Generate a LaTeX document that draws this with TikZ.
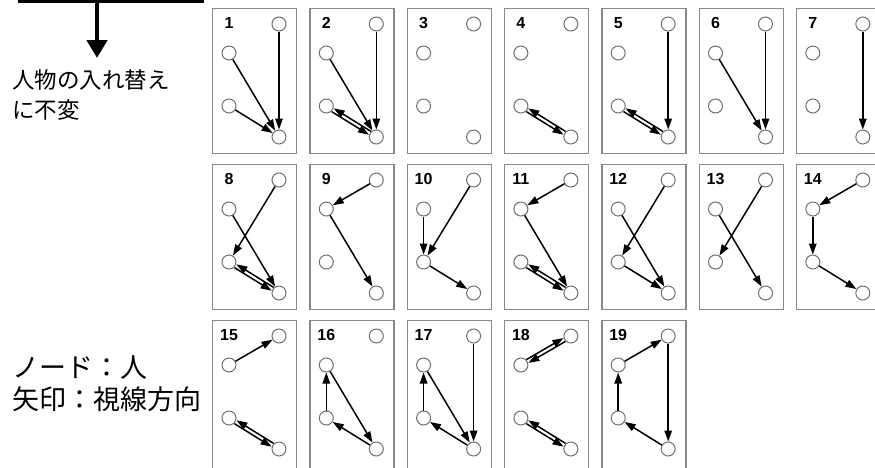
\documentclass[tikz,border=0pt]{standalone}
\usepackage{fontspec}
\setmainfont{Liberation Sans}
\newfontfamily\cjk{Noto Sans CJK JP}
\usetikzlibrary{arrows.meta}
\definecolor{nodegray}{HTML}{707070}
\definecolor{framegray}{HTML}{888888}
\begin{document}
\begin{tikzpicture}[x=1pt,y=-1pt,
  person/.style={circle,draw=nodegray,fill=white,line width=1pt,minimum size=14pt,inner sep=0pt},
  panelbox/.style={draw=framegray,line width=1.4pt,anchor=north west,minimum width=84pt,inner sep=0pt},
  lbl/.style={font=\bfseries\fontsize{16}{16}\selectfont,inner sep=0pt},
  arr/.style={-{Triangle[length=11pt,width=7.5pt]},line width=1.5pt,black},
  cdup/.style={transform canvas={shift={(1.0,-1.65)}}},
  cddn/.style={transform canvas={shift={(-1.0,1.65)}}},
  abdn/.style={transform canvas={shift={(1.0,1.65)}}},
  abup/.style={transform canvas={shift={(-1.0,-1.65)}}},
  bigline/.style={line width=4pt,black},
  bigarr/.style={line width=4.7pt,black,-{Triangle[length=18pt,width=20pt]}},
  cjktext/.style={anchor=west,align=left,inner sep=0pt,text=black}
]
\useasboundingbox (0,0) rectangle (875,467);

% top-left arrow
\coordinate (hl) at (18,0.8);
\coordinate (hr) at (204,0.8);
\coordinate (vt) at (97,0.8);
\coordinate (vb) at (97,58);
\draw[bigline] (hl) -- (hr);
\draw[bigarr] (vt) -- (vb);

\node[cjktext,font=\cjk\fontsize{22.5}{30}\selectfont] (inv) at (12,95) {人物の入れ替え\\に不変};
\node[cjktext,font=\cjk\fontsize{27}{32}\selectfont] (leg) at (12,384) {ノード：人\\矢印：視線方向};

% panels
\foreach \k in {1,...,19}{
  \pgfmathtruncatemacro{\ci}{mod(\k-1,7)}
  \pgfmathtruncatemacro{\ri}{(\k-1)/7}
  \pgfmathsetmacro{\px}{212+97.3*\ci}
  \pgfmathsetmacro{\py}{8+156*\ri}
  \pgfmathsetmacro{\ph}{\ri==2 ? 152 : 145}
  \node[panelbox,minimum height=\ph pt] (f\k) at (\px,\py) {};
  \node[lbl] (n\k) at (\px+17,\py+15) {\k};
  \node[person] (a\k) at (\px+67,\py+16) {};
  \node[person] (b\k) at (\px+17,\py+45) {};
  \node[person] (c\k) at (\px+17,\py+98) {};
  \node[person] (d\k) at (\px+67,\py+129) {};
}

% 1
\draw[arr] (a1) -- (d1);
\draw[arr] (b1) -- (d1);
\draw[arr] (c1) -- (d1);
% 2
\draw[arr] (a2) -- (d2);
\draw[arr] (b2) -- (d2);
\draw[arr,cddn] (c2) -- (d2);
\draw[arr,cdup] (d2) -- (c2);
% 4
\draw[arr,cddn] (c4) -- (d4);
\draw[arr,cdup] (d4) -- (c4);
% 5
\draw[arr] (a5) -- (d5);
\draw[arr,cddn] (c5) -- (d5);
\draw[arr,cdup] (d5) -- (c5);
% 6
\draw[arr] (a6) -- (d6);
\draw[arr] (b6) -- (d6);
% 7
\draw[arr] (a7) -- (d7);
% 8
\draw[arr] (a8) -- (c8);
\draw[arr] (b8) -- (d8);
\draw[arr,cddn] (c8) -- (d8);
\draw[arr,cdup] (d8) -- (c8);
% 9
\draw[arr] (a9) -- (b9);
\draw[arr] (b9) -- (d9);
% 10
\draw[arr] (a10) -- (c10);
\draw[arr] (b10) -- (c10);
\draw[arr] (c10) -- (d10);
% 11
\draw[arr] (a11) -- (b11);
\draw[arr] (b11) -- (d11);
\draw[arr,cddn] (c11) -- (d11);
\draw[arr,cdup] (d11) -- (c11);
% 12
\draw[arr] (a12) -- (c12);
\draw[arr] (b12) -- (d12);
\draw[arr] (c12) -- (d12);
% 13
\draw[arr] (a13) -- (c13);
\draw[arr] (b13) -- (d13);
% 14
\draw[arr] (a14) -- (b14);
\draw[arr] (b14) -- (c14);
\draw[arr] (c14) -- (d14);
% 15
\draw[arr] (b15) -- (a15);
\draw[arr,cddn] (c15) -- (d15);
\draw[arr,cdup] (d15) -- (c15);
% 16
\draw[arr] (b16) -- (d16);
\draw[arr] (c16) -- (b16);
\draw[arr] (d16) -- (c16);
% 17
\draw[arr] (a17) -- (d17);
\draw[arr] (b17) -- (d17);
\draw[arr] (c17) -- (b17);
\draw[arr] (d17) -- (c17);
% 18
\draw[arr,abup] (b18) -- (a18);
\draw[arr,abdn] (a18) -- (b18);
\draw[arr,cddn] (c18) -- (d18);
\draw[arr,cdup] (d18) -- (c18);
% 19
\draw[arr] (b19) -- (a19);
\draw[arr] (a19) -- (d19);
\draw[arr] (c19) -- (b19);
\draw[arr] (d19) -- (c19);
\end{tikzpicture}
\end{document}
